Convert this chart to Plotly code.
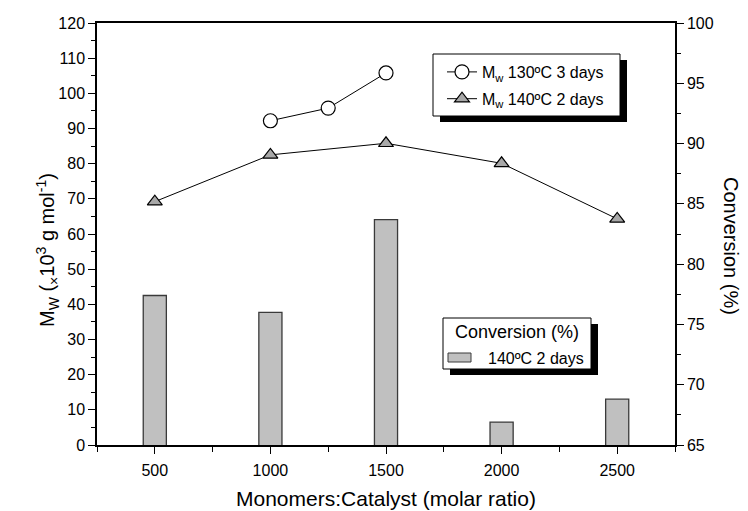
import plotly.graph_objects as go

# Monomers:catalyst molar ratios and measured results
ratio = [500, 1000, 1500, 2000, 2500]
conversion_140_2d = [77.4, 76.0, 83.7, 66.9, 68.8]      # conversion (%), 140ºC 2 days
mw_140_2d = [69.2, 82.5, 85.8, 80.1, 64.3]              # Mw (10^3 g/mol), 140ºC 2 days
ratio_130 = [1000, 1250, 1500]
mw_130_3d = [92.2, 95.8, 105.8]                         # Mw (10^3 g/mol), 130ºC 3 days

FONT = "Liberation Sans, Arial, sans-serif"
W, H = 748, 511
L, R, T, B = 97, 675, 23, 445  # plot area in pixels


def fx(x):
    return (x - L) / (R - L)


def fy(y):
    return (B - y) / (B - T)


fig = go.Figure()

fig.add_trace(go.Bar(
    x=ratio, y=conversion_140_2d, yaxis="y2", width=100,
    marker=dict(color="#c0c0c0", line=dict(color="#3a3a3a", width=1.3)),
    name="140ºC 2 days", showlegend=False,
))

fig.add_trace(go.Scatter(
    x=ratio_130, y=mw_130_3d, mode="lines+markers",
    line=dict(color="black", width=1),
    marker=dict(symbol="circle", size=14, color="white",
                line=dict(color="black", width=1.2)),
    name="M<sub>w</sub> 130ºC 3 days", legendgroup="a",
))

fig.add_trace(go.Scatter(
    x=ratio, y=mw_140_2d, mode="lines+markers",
    line=dict(color="black", width=1),
    marker=dict(symbol="triangle-up", size=13, color="#a8a8a8",
                line=dict(color="black", width=1.2)),
    name="M<sub>w</sub> 140ºC 2 days", legendgroup="b",
))

shapes = []
# legend boxes with drop shadows
for (x0, y0, x1, y1) in [(433, 54, 620, 116), (443, 318, 591, 369)]:
    shapes.append(dict(type="rect", xref="paper", yref="paper", layer="above",
                       x0=fx(x0 + 7), x1=fx(x1 + 7), y0=fy(y0 + 6), y1=fy(y1 + 6),
                       fillcolor="black", line=dict(width=0)))
    shapes.append(dict(type="rect", xref="paper", yref="paper", layer="above",
                       x0=fx(x0), x1=fx(x1), y0=fy(y0), y1=fy(y1),
                       fillcolor="white", line=dict(color="black", width=1)))
# bar legend swatch
shapes.append(dict(type="rect", xref="paper", yref="paper", layer="above",
                   x0=fx(448), x1=fx(471), y0=fy(353), y1=fy(362),
                   fillcolor="#c0c0c0", line=dict(color="#3a3a3a", width=1)))

annotations = [
    dict(text="Conversion (%)", xref="paper", yref="paper", x=fx(517), y=fy(332),
         showarrow=False, font=dict(size=18, family=FONT, color="black"),
         xanchor="center", yanchor="middle"),
    dict(text="140ºC 2 days", xref="paper", yref="paper", x=fx(486), y=fy(358),
         showarrow=False, font=dict(size=16, family=FONT, color="black"),
         xanchor="left", yanchor="middle"),
    dict(text="Conversion (%)", xref="paper", yref="paper", x=fx(731), y=fy(246),
         showarrow=False, textangle=90, font=dict(size=20, family=FONT, color="black"),
         xanchor="center", yanchor="middle"),
    dict(text="M<sub>W</sub> (<sub>×</sub>10<sup>3</sup> g mol<sup>-1</sup>)",
         xref="paper", yref="paper", x=fx(48), y=fy(250), showarrow=False,
         textangle=-90, font=dict(size=20, family=FONT, color="black"),
         xanchor="center", yanchor="middle"),
    dict(text="Monomers:Catalyst (molar ratio)", xref="paper", yref="paper",
         x=0.5, y=fy(498), showarrow=False,
         font=dict(size=21, family=FONT, color="black"),
         xanchor="center", yanchor="middle"),
]

axis_common = dict(
    showline=True, linecolor="black", linewidth=1.5,
    ticks="outside", ticklen=7, tickwidth=1.3, tickcolor="black",
    showgrid=False, zeroline=False, automargin=False,
    tickfont=dict(size=16, family=FONT, color="black"),
)

fig.update_layout(
    width=W, height=H,
    margin=dict(l=L, r=W - R, t=T, b=H - B, autoexpand=False),
    paper_bgcolor="white", plot_bgcolor="white",
    font=dict(family=FONT, color="black"),
    xaxis=dict(
        **axis_common, range=[250, 2750], dtick=500, tick0=0, mirror=True,
        ticklabelstandoff=3,
        minor=dict(dtick=250, ticklen=5, tickwidth=1.3, tickcolor="black", ticks="outside"),
    ),
    yaxis=dict(
        **axis_common, range=[0, 120], dtick=10,
        minor=dict(dtick=5, ticklen=4, tickwidth=1.3, tickcolor="black", ticks="outside"),
    ),
    yaxis2=dict(
        **axis_common, range=[65, 100], dtick=5, overlaying="y", side="right",
        minor=dict(dtick=2.5, ticklen=4, tickwidth=1.3, tickcolor="black", ticks="outside"),
    ),
    legend=dict(
        x=fx(442), y=fy(55), xanchor="left", yanchor="top",
        bgcolor="rgba(0,0,0,0)", borderwidth=0,
        font=dict(size=16, family=FONT, color="black"),
        traceorder="grouped", tracegroupgap=3,
    ),
    shapes=shapes,
    annotations=annotations,
)

fig.write_html("out.html")
